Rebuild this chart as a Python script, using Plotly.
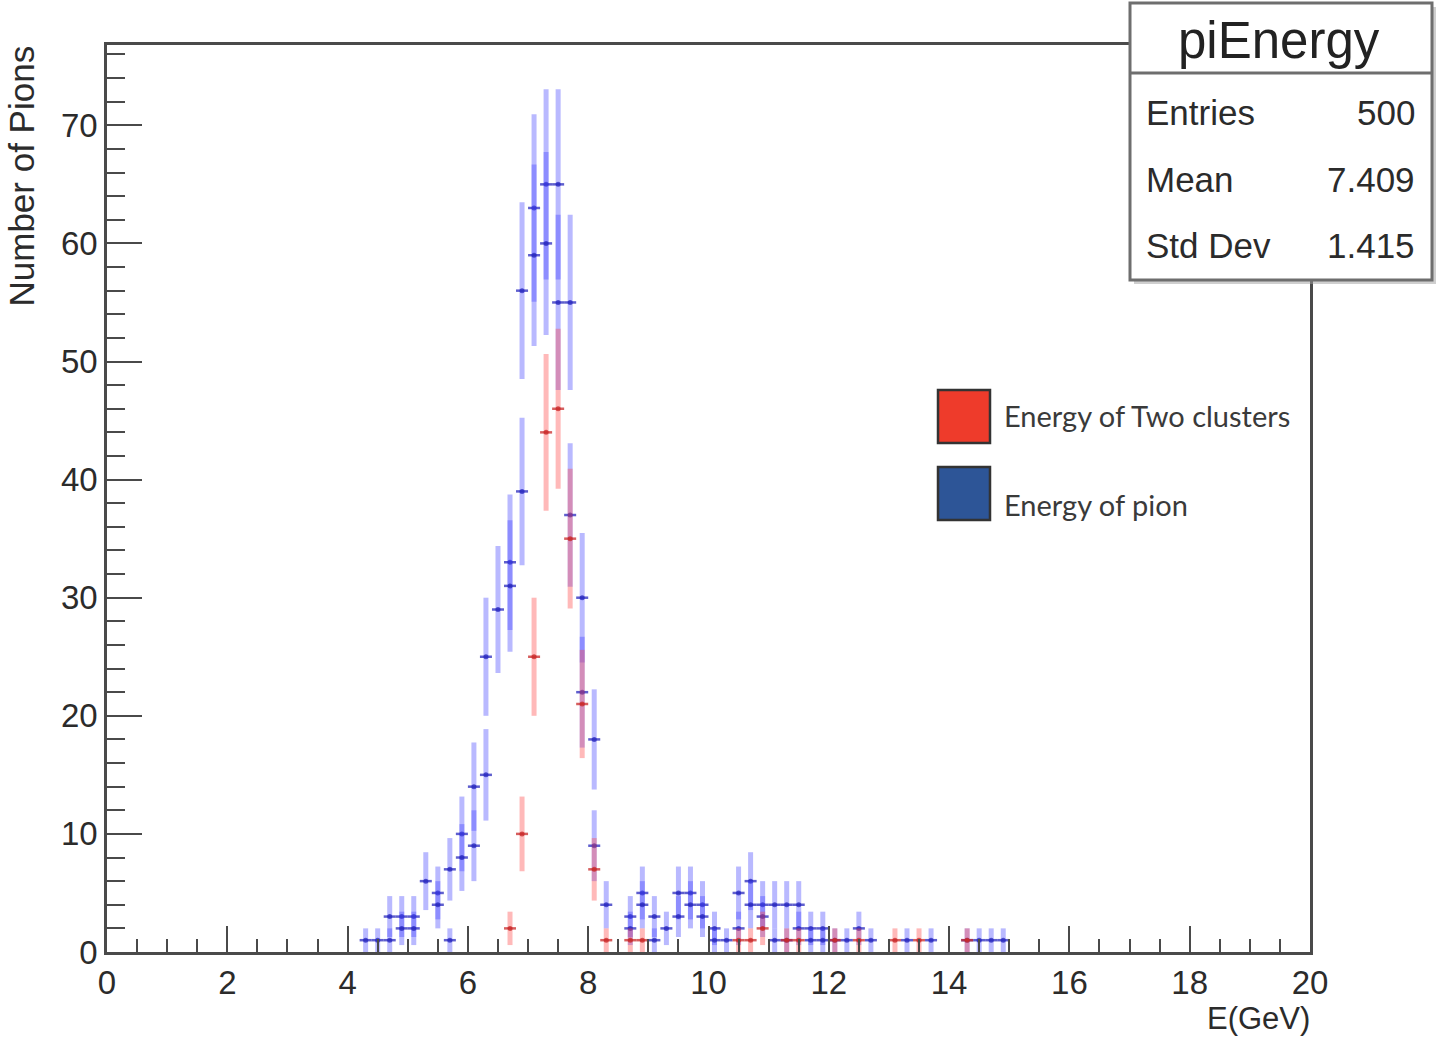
import numpy as np
import plotly.graph_objects as go

# ---------------- data (bin centres in GeV, counts per 0.2 GeV bin) ----------------
pion_a_x = [4.3, 4.5, 4.7, 4.9, 5.1, 5.3, 5.5, 5.7, 5.9, 6.1, 6.3, 6.5, 6.7, 6.9, 7.1, 7.3,
            7.5, 7.7, 7.9, 8.1, 8.3, 8.7, 8.9, 9.1, 9.3, 9.5, 9.7, 9.9, 10.1, 10.3, 10.5,
            10.7, 10.9, 11.1, 11.3, 11.5, 11.7, 11.9, 12.1, 12.3, 12.5, 12.7, 13.3, 13.7,
            14.3, 14.5, 14.7, 14.9]
pion_a_n = [1, 1, 3, 3, 3, 6, 5, 7, 10, 14, 25, 29, 33, 56, 63, 65,
            65, 55, 30, 18, 4, 3, 5, 3, 2, 5, 5, 4, 2, 1, 5,
            6, 4, 4, 4, 4, 2, 2, 1, 1, 2, 1, 1, 1,
            1, 1, 1, 1]

pion_b_x = [4.7, 4.9, 5.1, 5.5, 5.7, 5.9, 6.1, 6.3, 6.7, 6.9, 7.1, 7.3, 7.5, 7.7, 7.9, 8.1,
            8.7, 8.9, 9.1, 9.5, 9.7, 9.9, 10.1, 10.5, 10.7, 10.9, 11.1, 11.3, 11.5, 11.7, 11.9]
pion_b_n = [1, 2, 2, 4, 1, 8, 9, 15, 31, 39, 59, 60, 55, 37, 22, 9,
            2, 4, 1, 3, 4, 3, 1, 2, 4, 3, 1, 1, 2, 1, 1]

clusters_x = [6.7, 6.9, 7.1, 7.3, 7.5, 7.7, 7.9, 8.1, 8.3, 8.7, 8.9, 10.5, 10.7, 10.9,
              11.3, 11.5, 12.1, 12.5, 13.1, 13.5, 14.3]
clusters_n = [2, 10, 25, 44, 46, 35, 21, 7, 1, 1, 1, 1, 1, 2,
              1, 1, 1, 1, 1, 1, 1]

bin_half_width = 0.1

stat_title = "piEnergy"
stat_labels = ["Entries", "Mean", "Std Dev"]
stat_values = ["500", "7.409", "1.415"]

legend_labels = ["Energy of Two clusters", "Energy of pion"]

x_ticks = list(range(0, 21, 2))
y_ticks = list(range(0, 71, 10))

# ---------------- layout geometry (pixels of the 1443x1041 page) ----------------
W, H = 1443, 1041
L, R, T, B = 107, 1310, 45, 952


def px(xp):
    return (xp - L) / (R - L)


def py(yp):
    return (B - yp) / (B - T)


def hist_trace(x, n, line_col, mark_col, name, show):
    n = np.asarray(n, dtype=float)
    return go.Scatter(
        x=x, y=n, mode="markers", name=name, showlegend=show,
        marker=dict(size=5, color=mark_col, symbol="circle"),
        error_y=dict(type="data", array=np.sqrt(n), color=line_col, thickness=5, width=0),
        error_x=dict(type="data", array=[bin_half_width] * len(x), color=mark_col,
                     thickness=2.5, width=0),
    )


fig = go.Figure()
fig.add_trace(hist_trace(pion_a_x, pion_a_n, "rgba(70,70,255,0.38)", "rgba(40,40,190,0.75)",
                         legend_labels[1], False))
fig.add_trace(hist_trace(pion_b_x, pion_b_n, "rgba(70,70,255,0.38)", "rgba(40,40,190,0.75)",
                         legend_labels[1] + " ", False))
fig.add_trace(hist_trace(clusters_x, clusters_n, "rgba(255,70,70,0.38)", "rgba(200,40,40,0.75)",
                         legend_labels[0], False))

axis_col = "#4a4a4a"
tick_font = dict(family="Liberation Sans, Arial, sans-serif", size=33, color="#2b2b2b")

fig.update_xaxes(
    range=[0, 20], tickvals=x_ticks, ticktext=[str(v) for v in x_ticks],
    ticks="inside", ticklen=26, tickwidth=2, tickcolor=axis_col,
    minor=dict(dtick=0.5, ticks="inside", ticklen=13, tickwidth=2, tickcolor=axis_col, showgrid=False),
    showline=True, linecolor=axis_col, linewidth=2.5, mirror=True,
    showgrid=False, zeroline=False, tickfont=tick_font,
)
fig.update_yaxes(
    range=[0, 76.8], tickvals=y_ticks, ticktext=[str(v) for v in y_ticks],
    ticks="inside", ticklen=35, tickwidth=2, tickcolor=axis_col,
    minor=dict(dtick=2, ticks="inside", ticklen=18, tickwidth=2, tickcolor=axis_col, showgrid=False),
    showline=True, linecolor=axis_col, linewidth=2.5, mirror=True,
    showgrid=False, zeroline=False, tickfont=tick_font,
)

shapes = []
annotations = []

# axis titles
annotations.append(dict(x=px(1312), y=py(1018), xref="paper", yref="paper", text="E(GeV)",
                        showarrow=False, xanchor="right", yanchor="middle",
                        font=dict(family="Liberation Sans, Arial, sans-serif", size=31, color="#2b2b2b")))
annotations.append(dict(x=px(21), y=py(44), xref="paper", yref="paper", text="Number of Pions",
                        showarrow=False, textangle=-90, xanchor="center", yanchor="top",
                        font=dict(family="Liberation Sans, Arial, sans-serif", size=35, color="#2b2b2b")))

# stat box
box_col = "#6e6e6e"
shapes.append(dict(type="rect", xref="paper", yref="paper", x0=px(1134), x1=px(1436), y0=py(284), y1=py(7),
                   line=dict(width=0), fillcolor="rgba(160,160,160,0.5)", layer="above"))
shapes.append(dict(type="rect", xref="paper", yref="paper", x0=px(1130), x1=px(1432), y0=py(280), y1=py(3),
                   line=dict(color=box_col, width=3), fillcolor="white", layer="above"))
shapes.append(dict(type="line", xref="paper", yref="paper", x0=px(1130), x1=px(1432), y0=py(73), y1=py(73),
                   line=dict(color=box_col, width=3), layer="above"))
stat_font = dict(family="Liberation Sans, Arial, sans-serif", size=35, color="#2b2b2b")
annotations.append(dict(x=px(1279), y=py(40), xref="paper", yref="paper", text=stat_title,
                        showarrow=False, xanchor="center", yanchor="middle",
                        font=dict(family="Liberation Sans, Arial, sans-serif", size=51, color="#222222")))
for i, (lab, val) in enumerate(zip(stat_labels, stat_values)):
    yy = py(113 + 66 * i)
    annotations.append(dict(x=px(1144), y=yy, xref="paper", yref="paper", text=lab, showarrow=False,
                            xanchor="left", yanchor="middle", font=stat_font))
    annotations.append(dict(x=px(1417), y=yy, xref="paper", yref="paper", text=val, showarrow=False,
                            xanchor="right", yanchor="middle", font=stat_font))

# legend (pasted-style squares)
leg_cols = ["#ee3b2b", "#2d5597"]
leg_text_y = [415, 505]
for i, (lab, col) in enumerate(zip(legend_labels, leg_cols)):
    top = 390 + 77 * i
    shapes.append(dict(type="rect", xref="paper", yref="paper", x0=px(938), x1=px(990),
                       y0=py(top + 53), y1=py(top), line=dict(color="#333333", width=2.5),
                       fillcolor=col, layer="above"))
    annotations.append(dict(x=px(1002), y=py(leg_text_y[i]), xref="paper", yref="paper", text=lab,
                            showarrow=False, xanchor="left", yanchor="middle",
                            font=dict(family="Lato, Open Sans, sans-serif", size=29, color="#3a3a3a")))

fig.update_layout(
    width=W, height=H,
    margin=dict(l=L, r=W - R, t=T, b=H - B, pad=0),
    paper_bgcolor="white", plot_bgcolor="white",
    showlegend=False, shapes=shapes, annotations=annotations,
)

fig.write_html("out.html")
